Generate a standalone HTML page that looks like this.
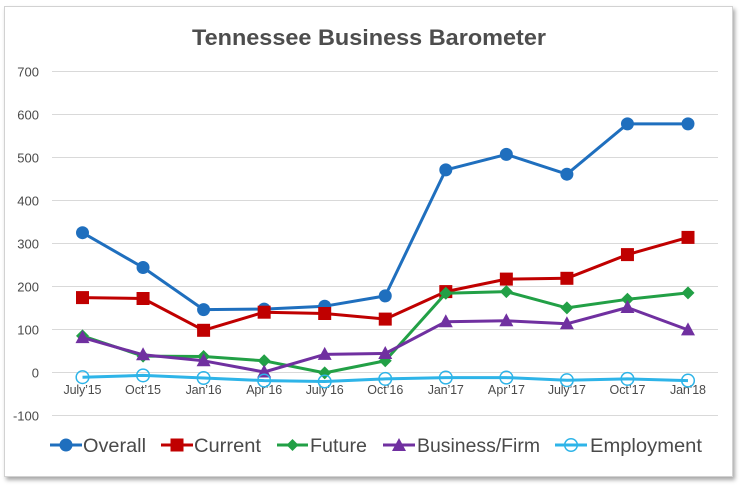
<!DOCTYPE html>
<html><head><meta charset="utf-8"><style>
html,body{margin:0;padding:0;background:#fff;width:740px;height:490px;overflow:hidden}
.frame{position:absolute;left:4px;top:6px;width:727px;height:469px;border:1px solid #d2d2d2;background:#fff;box-shadow:2px 3px 4px rgba(0,0,0,0.35)}
svg{position:absolute;left:0;top:0}
text{font-family:"Liberation Sans",sans-serif;fill:#4a4a4a}
</style></head><body>
<div class="frame"></div>
<svg width="740" height="490" viewBox="0 0 740 490">
<text x="192" y="45" font-size="22" font-weight="bold" textLength="354" lengthAdjust="spacingAndGlyphs" style="fill:#4d4d4d">Tennessee Business Barometer</text>
<g stroke="#d9d9d9" stroke-width="1">
<line x1="52" x2="718" y1="71.5" y2="71.5"/><line x1="52" x2="718" y1="114.5" y2="114.5"/>
<line x1="52" x2="718" y1="157.5" y2="157.5"/><line x1="52" x2="718" y1="200.5" y2="200.5"/>
<line x1="52" x2="718" y1="243.5" y2="243.5"/><line x1="52" x2="718" y1="286.5" y2="286.5"/>
<line x1="52" x2="718" y1="329.5" y2="329.5"/><line x1="52" x2="718" y1="372.5" y2="372.5"/>
<line x1="52" x2="718" y1="415.5" y2="415.5"/>
</g>
<g font-size="13" text-anchor="end">
<text x="39" y="76.5">700</text><text x="39" y="119.5">600</text><text x="39" y="162.5">500</text>
<text x="39" y="205.5">400</text><text x="39" y="248.5">300</text><text x="39" y="291.5">200</text>
<text x="39" y="334.5">100</text><text x="39" y="377.5">0</text><text x="39" y="420.5">-100</text>
</g>
<g font-size="12.5" text-anchor="middle" lengthAdjust="spacingAndGlyphs">
<text x="82.5" y="394" textLength="38">July’15</text><text x="143" y="394" textLength="36">Oct’15</text><text x="203.6" y="394" textLength="36">Jan’16</text>
<text x="264.2" y="394" textLength="36">Apr’16</text><text x="324.7" y="394" textLength="38">July’16</text><text x="385.3" y="394" textLength="36">Oct’16</text>
<text x="445.8" y="394" textLength="36">Jan’17</text><text x="506.4" y="394" textLength="37">Apr’17</text><text x="566.9" y="394" textLength="38">July’17</text>
<text x="627.5" y="394" textLength="36">Oct’17</text><text x="688" y="394" textLength="36">Jan’18</text>
</g>
<!-- Overall -->
<polyline fill="none" stroke="#1f6fbe" stroke-width="3" stroke-linejoin="round" points="82.5,232.7 143.05,267.5 203.6,309.6 264.15,309.1 324.7,306.2 385.25,295.9 445.8,169.9 506.35,154.4 566.9,174.2 627.45,123.9 688,123.9"/>
<g fill="#1f6fbe">
<circle cx="82.5" cy="232.7" r="6.5"/><circle cx="143.05" cy="267.5" r="6.5"/><circle cx="203.6" cy="309.6" r="6.5"/>
<circle cx="264.15" cy="309.1" r="6.5"/><circle cx="324.7" cy="306.2" r="6.5"/><circle cx="385.25" cy="295.9" r="6.5"/>
<circle cx="445.8" cy="169.9" r="6.5"/><circle cx="506.35" cy="154.4" r="6.5"/><circle cx="566.9" cy="174.2" r="6.5"/>
<circle cx="627.45" cy="123.9" r="6.5"/><circle cx="688" cy="123.9" r="6.5"/>
</g>
<!-- Current -->
<polyline fill="none" stroke="#c00000" stroke-width="3" stroke-linejoin="round" points="82.5,297.6 143.05,298.5 203.6,330.3 264.15,312.2 324.7,313.5 385.25,319.1 445.8,291.6 506.35,279.1 566.9,278.3 627.45,254.6 688,237.4"/>
<g fill="#c00000">
<rect x="76" y="291.1" width="13" height="13"/><rect x="136.55" y="292" width="13" height="13"/>
<rect x="197.1" y="323.8" width="13" height="13"/><rect x="257.65" y="305.7" width="13" height="13"/>
<rect x="318.2" y="307" width="13" height="13"/><rect x="378.75" y="312.6" width="13" height="13"/>
<rect x="439.3" y="285.1" width="13" height="13"/><rect x="499.85" y="272.6" width="13" height="13"/>
<rect x="560.4" y="271.8" width="13" height="13"/><rect x="620.95" y="248.1" width="13" height="13"/>
<rect x="681.5" y="230.9" width="13" height="13"/>
</g>
<!-- Future -->
<polyline fill="none" stroke="#22a046" stroke-width="3" stroke-linejoin="round" points="82.5,335.9 143.05,356.1 203.6,356.5 264.15,360.8 324.7,372.9 385.25,360.8 445.8,293.3 506.35,291.6 566.9,307.9 627.45,299.3 688,292.9"/>
<g fill="#22a046">
<polygon points="82.5,329.4 89,335.9 82.5,342.4 76,335.9"/>
<polygon points="143.05,349.6 149.55,356.1 143.05,362.6 136.55,356.1"/>
<polygon points="203.6,350 210.1,356.5 203.6,363 197.1,356.5"/>
<polygon points="264.15,354.3 270.65,360.8 264.15,367.3 257.65,360.8"/>
<polygon points="324.7,366.4 331.2,372.9 324.7,379.4 318.2,372.9"/>
<polygon points="385.25,354.3 391.75,360.8 385.25,367.3 378.75,360.8"/>
<polygon points="445.8,286.8 452.3,293.3 445.8,299.8 439.3,293.3"/>
<polygon points="506.35,285.1 512.85,291.6 506.35,298.1 499.85,291.6"/>
<polygon points="566.9,301.4 573.4,307.9 566.9,314.4 560.4,307.9"/>
<polygon points="627.45,292.8 633.95,299.3 627.45,305.8 620.95,299.3"/>
<polygon points="688,286.4 694.5,292.9 688,299.4 681.5,292.9"/>
</g>
<!-- Business/Firm -->
<polyline fill="none" stroke="#7030a0" stroke-width="3" stroke-linejoin="round" points="82.5,337.6 143.05,354.8 203.6,360.8 264.15,372 324.7,354.4 385.25,353.5 445.8,321.7 506.35,320.8 566.9,323.8 627.45,307.5 688,329.9"/>
<g fill="#7030a0">
<polygon points="82.5,330.1 89.5,343.1 75.5,343.1"/>
<polygon points="143.05,347.3 150.05,360.3 136.05,360.3"/>
<polygon points="203.6,353.3 210.6,366.3 196.6,366.3"/>
<polygon points="264.15,364.5 271.15,377.5 257.15,377.5"/>
<polygon points="324.7,346.9 331.7,359.9 317.7,359.9"/>
<polygon points="385.25,346 392.25,359 378.25,359"/>
<polygon points="445.8,314.2 452.8,327.2 438.8,327.2"/>
<polygon points="506.35,313.3 513.35,326.3 499.35,326.3"/>
<polygon points="566.9,316.3 573.9,329.3 559.9,329.3"/>
<polygon points="627.45,300 634.45,313 620.45,313"/>
<polygon points="688,322.4 695,335.4 681,335.4"/>
</g>
<!-- Employment -->
<polyline fill="none" stroke="#2eb4e8" stroke-width="3" stroke-linejoin="round" points="82.5,377.2 143.05,375.4 203.6,378 264.15,380.6 324.7,381.5 385.25,378.9 445.8,377.6 506.35,377.6 566.9,380.2 627.45,378.9 688,380.6"/>
<g fill="none" stroke="#2eb4e8" stroke-width="1.5">
<circle cx="82.5" cy="377.2" r="6.3"/><circle cx="143.05" cy="375.4" r="6.3"/><circle cx="203.6" cy="378" r="6.3"/>
<circle cx="264.15" cy="380.6" r="6.3"/><circle cx="324.7" cy="381.5" r="6.3"/><circle cx="385.25" cy="378.9" r="6.3"/>
<circle cx="445.8" cy="377.6" r="6.3"/><circle cx="506.35" cy="377.6" r="6.3"/><circle cx="566.9" cy="380.2" r="6.3"/>
<circle cx="627.45" cy="378.9" r="6.3"/><circle cx="688" cy="380.6" r="6.3"/>
</g>
<!-- Legend -->
<g font-size="19">
<line x1="50" x2="82" y1="445" y2="445" stroke="#1f6fbe" stroke-width="3"/>
<circle cx="66" cy="445" r="6.5" fill="#1f6fbe"/>
<text x="83" y="452" textLength="63" lengthAdjust="spacingAndGlyphs">Overall</text>
<line x1="161" x2="193" y1="445" y2="445" stroke="#c00000" stroke-width="3"/>
<rect x="170.5" y="438.5" width="13" height="13" fill="#c00000"/>
<text x="194" y="452" textLength="67" lengthAdjust="spacingAndGlyphs">Current</text>
<line x1="277" x2="308" y1="445" y2="445" stroke="#22a046" stroke-width="3"/>
<polygon points="292.5,439 298.5,445 292.5,451 286.5,445" fill="#22a046"/>
<text x="310" y="452" textLength="57" lengthAdjust="spacingAndGlyphs">Future</text>
<line x1="383" x2="415" y1="445" y2="445" stroke="#7030a0" stroke-width="3"/>
<polygon points="399,438 406,451 392,451" fill="#7030a0"/>
<text x="417" y="452" textLength="123" lengthAdjust="spacingAndGlyphs">Business/Firm</text>
<line x1="555" x2="587" y1="445" y2="445" stroke="#2eb4e8" stroke-width="3"/>
<circle cx="571" cy="445" r="6.3" fill="none" stroke="#2eb4e8" stroke-width="1.5"/>
<text x="590" y="452" textLength="112" lengthAdjust="spacingAndGlyphs">Employment</text>
</g>
</svg>
</body></html>
